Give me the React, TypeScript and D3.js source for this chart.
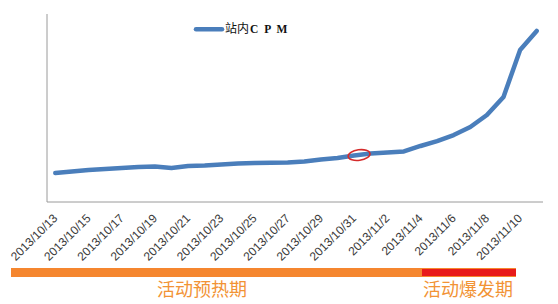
import React from "react";
import * as d3 from "d3";

const dates: string[] = [
  "2013/10/13","2013/10/14","2013/10/15","2013/10/16","2013/10/17","2013/10/18",
  "2013/10/19","2013/10/20","2013/10/21","2013/10/22","2013/10/23","2013/10/24",
  "2013/10/25","2013/10/26","2013/10/27","2013/10/28","2013/10/29","2013/10/30",
  "2013/10/31","2013/11/1","2013/11/2","2013/11/3","2013/11/4","2013/11/5",
  "2013/11/6","2013/11/7","2013/11/8","2013/11/9","2013/11/10","2013/11/11",
];
const cpm: number[] = [
  15.4,16.2,17.0,17.6,18.1,18.6,18.9,18.1,19.1,19.4,19.9,20.5,20.7,20.9,21.0,
  21.5,22.6,23.4,24.7,25.8,26.3,26.9,29.8,32.4,35.6,39.9,46.3,55.9,80.9,91.0,
];
const tickLabels: string[] = dates.filter((_, i) => i % 2 === 0);
const seriesName = "站内";
const seriesSuffix = "C P M";
const phases: { label: string; from: number; to: number }[] = [
  { label: "活动预热期", from: 0, to: 22 },
  { label: "活动爆发期", from: 22, to: 29 },
];

const W = 558, H = 304;
const plot = { left: 47, right: 545, top: 14, bottom: 202 };

export default function App() {
  const x = d3.scaleBand<string>().domain(dates).range([plot.left, plot.right]);
  const cx = (d: string) => (x(d) as number) + x.bandwidth() / 2;
  const y = d3.scaleLinear().domain([0, 100]).range([plot.bottom, plot.top]);
  const line = d3
    .line<number>()
    .x((_, i) => cx(dates[i]))
    .y((v) => y(v))
    .curve(d3.curveLinear);
  const blue = "#4a7ebb";
  const ex = cx(dates[18]) + 5;
  const ey = y(cpm[18]) - 0.5;
  return (
    <svg width={W} height={H} style={{ position: "absolute", left: 0, top: 0, background: "#fff" }}>
      <line x1={plot.left} x2={plot.left} y1={plot.top} y2={plot.bottom} stroke="#9a9a9a" strokeWidth={1} />
      <line x1={plot.left} x2={plot.right - 2} y1={plot.bottom} y2={plot.bottom} stroke="#9a9a9a" strokeWidth={1} />
      <path d={line(cpm) || ""} fill="none" stroke={blue} strokeWidth={4.5} strokeLinecap="round" strokeLinejoin="round" />
      <ellipse cx={ex} cy={ey} rx={11} ry={5.3} fill="none" stroke="#d42a2a" strokeWidth={1.6} transform={`rotate(-8 ${ex} ${ey})`} />
      {tickLabels.map((d) => {
        const px = cx(d) + 3;
        const py = 219;
        return (
          <text key={d} x={px} y={py} transform={`rotate(-45 ${px} ${py})`} textAnchor="end"
            fontFamily="Liberation Sans, Arial, sans-serif" fontSize={12} fill="#3a3a3a">
            {d}
          </text>
        );
      })}
      <line x1={196} x2={222} y1={29.3} y2={29.3} stroke={blue} strokeWidth={4.5} strokeLinecap="round" />
      <text x={225} y={33} fontSize={12} fill="#111">
        <tspan fontFamily="Noto Sans CJK SC">{seriesName}</tspan>
        <tspan fontFamily="Liberation Serif, serif" fontWeight="bold" fontSize={11.5} letterSpacing={1.5} dx={1}>{seriesSuffix}</tspan>
      </text>
      <rect x={11} y={268} width={505} height={9} fill="#f5862f" />
      <rect x={422} y={269} width={94} height={7} fill="#e81b1b" />
      {phases.map((p, i) => {
        const mx = i === 0 ? 202 : 468;
        return (
          <text key={p.label} x={mx} y={296} textAnchor="middle" fontFamily="Noto Sans CJK SC"
            fontSize={18} fill="#f29335">
            {p.label}
          </text>
        );
      })}
    </svg>
  );
}
